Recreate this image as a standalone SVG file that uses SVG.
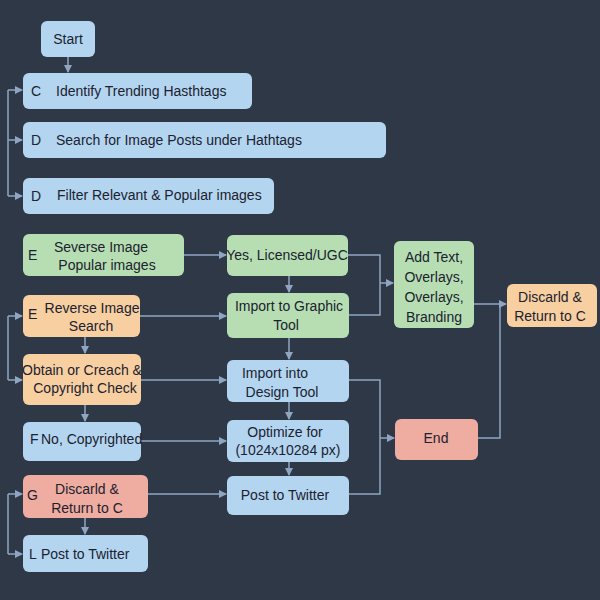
<svg xmlns="http://www.w3.org/2000/svg" width="600" height="600" viewBox="0 0 600 600">
<defs>
<marker id="a" markerWidth="8" markerHeight="8" refX="7" refY="4" orient="auto" markerUnits="userSpaceOnUse"><path d="M0,0 L8,4 L0,8 Z" fill="#8fa6c2"/></marker>
<style>
text{font-family:"Liberation Sans","Noto Sans",sans-serif;font-size:14px;fill:#1b2230}
.b{fill:#b4d5ef}.g{fill:#b7deb2}.o{fill:#f8cfa0}.r{fill:#efaca0}
.c path{fill:none;stroke:#8fa6c2;stroke-width:1.5;marker-end:url(#a)}
.c path.n{marker-end:none}
</style>
</defs>
<rect width="600" height="600" fill="#2e3847"/>
<g class="c">
<path d="M68,57 V72"/>
<path class="n" d="M8,90 V196"/>
<path class="n" d="M8,316 V380"/>
<path class="n" d="M8,494 V554"/>
<path d="M8,90 H22"/><path d="M8,140 H22"/><path d="M8,196 H22"/>
<path d="M8,316 H22"/><path d="M8,380 H22"/><path d="M8,494 H22"/><path d="M8,554 H22"/>
<path d="M184,255 H226"/>
<path d="M289,276 V292"/>
<path class="n" d="M348,255 H380 V315 H349"/>
<path d="M380,283 H393"/>
<path d="M140,316 H226"/>
<path d="M85,337 V353"/>
<path d="M141,380 H226"/>
<path d="M85,405 V421"/>
<path d="M289,338 V359"/>
<path class="n" d="M349,380 H380 V494 H349"/>
<path d="M380,438 H394"/>
<path d="M141,441 H226"/>
<path d="M289,402 V419"/>
<path d="M289,462 V475"/>
<path d="M148,494 H226"/>
<path d="M85,518 V534"/>
<path d="M474,304 H506"/>
<path class="n" d="M478,438 H500 V304"/>
</g>
<g id="start"><rect class="b" x="41" y="21" width="54" height="36" rx="6"/><text x="68" y="44" text-anchor="middle" font-size="15">Start</text></g>
<g id="c"><rect class="b" x="23" y="73" width="229" height="36" rx="6"/><text x="31" y="96" font-size="15">C</text><text x="56" y="96" font-size="15">Identify Trending Hasthtags</text></g>
<g id="d1"><rect class="b" x="23" y="122" width="363" height="36" rx="6"/><text x="31" y="145" font-size="15">D</text><text x="56" y="145" font-size="15">Search for Image Posts under Hathtags</text></g>
<g id="d2"><rect class="b" x="23" y="178" width="251" height="36" rx="6"/><text x="31" y="201" font-size="15">D</text><text x="57" y="200">Filter Relevant &amp; Popular images</text></g>
<g id="e1"><rect class="g" x="23" y="234" width="161" height="42" rx="6"/><text x="28" y="260" font-size="15">E</text><text x="101" y="252" text-anchor="middle">Severse Image</text><text x="107" y="270" text-anchor="middle">Popular images</text></g>
<g id="yes"><rect class="g" x="227" y="235" width="121" height="41" rx="6"/><text x="287" y="260" text-anchor="middle" font-size="12">Yes, Licensed/UGC</text></g>
<g id="img"><rect class="g" x="227" y="293" width="122" height="45" rx="6"/><text x="289" y="311" text-anchor="middle" font-size="15">Import to Graphic</text><text x="286" y="330" text-anchor="middle" font-size="15">Tool</text></g>
<g id="add"><rect class="g" x="394" y="241" width="80" height="87" rx="6"/><text x="434" y="262" text-anchor="middle" font-size="15">Add Text,</text><text x="434" y="282" text-anchor="middle" font-size="15">Overlays,</text><text x="434" y="302" text-anchor="middle" font-size="15">Overlays,</text><text x="434" y="322" text-anchor="middle" font-size="15">Branding</text></g>
<g id="disc"><rect class="o" x="507" y="284" width="90" height="43" rx="6"/><text x="550" y="302" text-anchor="middle">Discarld &amp;</text><text x="550" y="321" text-anchor="middle">Return to C</text></g>
<g id="e2"><rect class="o" x="23" y="295" width="117" height="42" rx="6"/><text x="28" y="319" font-size="15">E</text><text x="92" y="313" text-anchor="middle" font-size="13">Reverse Image</text><text x="91" y="331" text-anchor="middle" font-size="13">Search</text></g>
<g id="obt"><rect class="o" x="23" y="354" width="118" height="51" rx="6"/><text x="82" y="375" text-anchor="middle" font-size="12">Obtain or Creach &amp;</text><text x="85" y="393" text-anchor="middle" font-size="13">Copyright Check</text></g>
<g id="des"><rect class="b" x="227" y="360" width="122" height="42" rx="6"/><text x="275" y="378" text-anchor="middle">Import into</text><text x="282" y="397" text-anchor="middle">Design Tool</text></g>
<g id="f"><rect class="b" x="23" y="422" width="118" height="39" rx="6"/><text x="30" y="444" font-size="12">F</text><text x="41" y="444" font-size="12">No, Copyrighted</text></g>
<g id="opt"><rect class="b" x="227" y="420" width="122" height="42" rx="6"/><text x="285" y="437" text-anchor="middle" font-size="13">Optimize for</text><text x="288" y="455" text-anchor="middle" font-size="12.5">(1024x10284 px)</text></g>
<g id="end"><rect class="r" x="395" y="419" width="83" height="41" rx="6"/><text x="436" y="443" text-anchor="middle" font-size="15">End</text></g>
<g id="g"><rect class="r" x="23" y="475" width="125" height="43" rx="6"/><text x="27" y="500" font-size="15">G</text><text x="87" y="494" text-anchor="middle" font-size="15">Discarld &amp;</text><text x="87" y="513" text-anchor="middle" font-size="15">Return to C</text></g>
<g id="post"><rect class="b" x="227" y="476" width="122" height="39" rx="6"/><text x="285" y="500" text-anchor="middle" font-size="15">Post to Twitter</text></g>
<g id="l"><rect class="b" x="23" y="535" width="125" height="37" rx="6"/><text x="29" y="559" font-size="15">L</text><text x="41" y="559" font-size="15">Post to Twitter</text></g>
</svg>
